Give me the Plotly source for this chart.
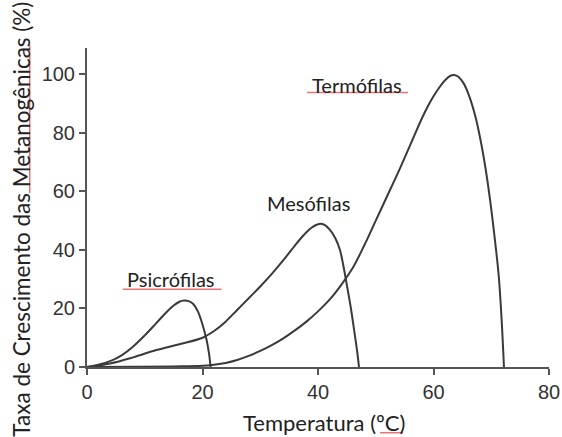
import plotly.graph_objects as go

# Data
psicro_x = [0, 2, 4, 6, 8, 10, 12, 13.5, 15, 16, 16.8, 17.6, 18.4, 19.2, 20, 20.7, 21.1, 21.4]
psicro_y = [0, 0.8, 2, 4, 7, 10.8, 15, 18.2, 21, 22.3, 22.7, 22.5, 21.5, 19, 14.5, 9.3, 5, 0]

meso_x = [0, 4, 8, 12, 16, 20, 22, 24, 26, 28, 30, 32, 34, 36, 37.5, 38.8, 40, 41, 42,
          43, 43.8, 44.4, 45, 45.7, 46.3, 46.8, 47.1]
meso_y = [0, 1.2, 3.3, 5.8, 7.8, 10, 12.3, 15.5, 19.5, 23.5, 27.5, 31.8, 36.5, 41.5, 45,
          47.5, 48.8, 48.7, 47, 44, 40, 34.5, 28, 20, 12, 5, 0]

termo_x = [0, 8, 15, 20, 22, 24, 26, 28, 30, 32, 34, 36, 38, 40, 42, 44, 46, 48, 50, 52,
           54, 56, 58, 59, 60, 61, 62, 63, 63.6, 64.3, 65.2, 66.2, 67.2, 68.1, 69, 69.8,
           70.6, 71.3, 71.8, 72.2]
termo_y = [0, 0.1, 0.2, 0.4, 0.8, 1.4, 2.4, 3.8, 5.5, 7.5, 9.8, 12.5, 15.5, 19, 23, 28,
           33.8, 41.5, 50, 58.5, 67, 76, 85, 89, 92.5, 95.5, 98, 99.6, 99.8, 99.2, 97,
           92.5, 86, 78, 68, 57, 44, 31, 16, 0]

labels = ["Psicrófilas", "Mesófilas", "Termófilas"]
label_x = [14.6, 38.4, 46.8]
label_y = [30, 56, 96.5]

x_ticks = [0, 20, 40, 60, 80]
y_ticks = [0, 20, 40, 60, 80, 100]

x_title = "Temperatura (ºC)"
y_title = "Taxa de Crescimento das Metanogênicas (%)"

line_color = "#3a3a3a"
fig = go.Figure()
for xs, ys in [(psicro_x, psicro_y), (meso_x, meso_y), (termo_x, termo_y)]:
    fig.add_trace(go.Scatter(x=xs, y=ys, mode="lines",
                             line=dict(color=line_color, width=2, shape="spline", smoothing=1.0),
                             showlegend=False, hoverinfo="skip"))

for t, lx, ly in zip(labels, label_x, label_y):
    fig.add_annotation(x=lx, y=ly, text=t, showarrow=False,
                       font=dict(family="Lato", size=20, color="#222"))

# axis titles as annotations for exact placement
fig.add_annotation(x=0.514, y=-0.1755, xref="paper", yref="paper", text=x_title,
                   showarrow=False, xanchor="center", yanchor="middle",
                   font=dict(family="Lato", size=22, color="#222"))
fig.add_annotation(x=-0.1414, y=0.464, xref="paper", yref="paper", text=y_title,
                   showarrow=False, xanchor="center", yanchor="middle", textangle=-90,
                   font=dict(family="Lato", size=22.5, color="#222"))

# spell-check style red underlines
red = "rgba(230,80,80,0.8)"
fig.add_shape(type="line", x0=6.2, x1=23.3, y0=26.6, y1=26.6, xref="x", yref="y",
              line=dict(color=red, width=1.5))
fig.add_shape(type="line", x0=38.1, x1=55.6, y0=93.8, y1=93.8, xref="x", yref="y",
              line=dict(color=red, width=1.5))
fig.add_shape(type="line", x0=-0.124, x1=-0.124, y0=0.545, y1=1.009, xref="paper", yref="paper",
              line=dict(color=red, width=1.5))
fig.add_shape(type="line", x0=0.634, x1=0.684, y0=-0.206, y1=-0.206, xref="paper", yref="paper",
              line=dict(color=red, width=1.5))

axis_common = dict(showgrid=False, zeroline=False, showline=True, linecolor="#555",
                   linewidth=2, ticks="outside", ticklen=6, tickwidth=2, tickcolor="#555",
                   automargin=False,
                   tickfont=dict(family="Liberation Sans", size=20, color="#333"))

fig.update_layout(
    width=562, height=437,
    margin=dict(l=87, r=13, t=48, b=70),
    paper_bgcolor="white", plot_bgcolor="white",
    xaxis=dict(range=[0, 80], tickvals=x_ticks, **axis_common),
    yaxis=dict(range=[0, 109], tickvals=y_ticks, **axis_common),
)

fig.write_html("out.html", config={"displayModeBar": False},
               post_script="document.body.style.margin='0';")
